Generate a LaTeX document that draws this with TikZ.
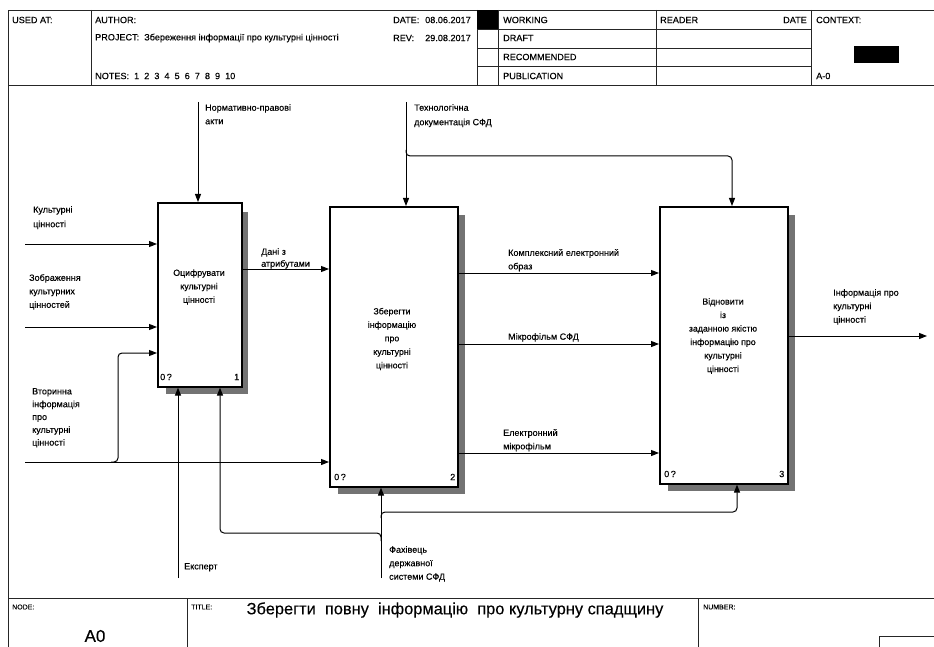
\documentclass[tikz,border=0pt]{standalone}
\usepackage{fontspec}
\setmainfont{Liberation Sans}[FakeBold=0.25]
\usetikzlibrary{arrows.meta}
\begin{document}
\begin{tikzpicture}[x=1pt,y=-1pt,
  lbl/.style={font=\fontsize{9}{13.5}\selectfont, align=left, anchor=north west, inner sep=0pt},
  boxtxt/.style={font=\fontsize{8.8}{13.5}\selectfont, align=center, inner sep=0pt},
  hdr/.style={font=\fontsize{9.1}{10}\selectfont, anchor=west, inner sep=0pt},
  small/.style={font=\fontsize{7}{8}\selectfont, anchor=west, inner sep=0pt},
  proc/.style={draw, line width=1.6pt, fill=white, anchor=north west, inner sep=0pt},
  conn/.style={line width=1pt, -{Triangle[length=8pt,width=6pt]}, rounded corners=4pt},
  shadowfill/.style={fill=black!55},
  frame/.style={line width=0.9pt, draw=black!85}
]
\useasboundingbox (0,0) rectangle (934,647);
% ---------- frame ----------
\draw[frame] (8,647) -- (8,10) -- (934,10);
\draw[frame] (8,85) -- (934,85);
\draw[frame] (91,10) -- (91,85);
\draw[frame] (477,10) -- (477,85);
\draw[frame] (498,10) -- (498,85);
\draw[frame] (656,10) -- (656,85);
\draw[frame] (811,10) -- (811,85);
\foreach \yy in {29,48,66} \draw[frame] (477,\yy) -- (811,\yy);
\fill (477,10) rectangle (498,29);
\fill (854,46) rectangle (899,63);
\draw[frame] (8,598) -- (934,598);
\draw[frame] (187,598) -- (187,647);
\draw[frame] (698,598) -- (698,647);
\draw[frame] (879,647) -- (879,636) -- (934,636);
% ---------- header text ----------
\node[hdr] (usedat) at (12,20) {USED AT:};
\node[hdr] (author) at (95,20) {AUTHOR:};
\node[hdr] (project) at (95,38) {PROJECT:\ \ Збереження інформації про культурні цінності};
\node[hdr] (notes) at (95,76) {NOTES:\ \ 1\ \ 2\ \ 3\ \ 4\ \ 5\ \ 6\ \ 7\ \ 8\ \ 9\ \ 10};
\node[hdr] (datel) at (393,20) {DATE:};
\node[hdr] (datev) at (425,20) {08.06.2017};
\node[hdr] (revl) at (393,38) {REV:};
\node[hdr] (revv) at (425,38) {29.08.2017};
\node[hdr] (working) at (503,20) {WORKING};
\node[hdr] (draft) at (503,38) {DRAFT};
\node[hdr] (recom) at (503,57) {RECOMMENDED};
\node[hdr] (publ) at (503,76) {PUBLICATION};
\node[hdr] (reader) at (660,20) {READER};
\node[hdr, anchor=east] (rdate) at (807,20) {DATE};
\node[hdr] (context) at (816,20) {CONTEXT:};
\node[hdr] (azero) at (816,76) {A-0};
% ---------- footer text ----------
\node[small] (nodel) at (12,607) {NODE:};
\node[font=\fontsize{17}{18}\selectfont, inner sep=0pt] (nodev) at (95,636) {A0};
\node[small] (titlel) at (191,607) {TITLE:};
\node[font=\fontsize{16.4}{18}\selectfont, inner sep=0pt] (title) at (455,610) {Зберегти\ \ повну\ \ інформацію\ \ про культурну спадщину};
\node[small] (numberl) at (703,607) {NUMBER:};
% ---------- shadows ----------
\fill[shadowfill] (241,212) rectangle (248,394);
\fill[shadowfill] (166,386) rectangle (248,394);
\fill[shadowfill] (457,215) rectangle (465,494);
\fill[shadowfill] (338,486) rectangle (465,494);
\fill[shadowfill] (787,215) rectangle (795,491);
\fill[shadowfill] (668,483) rectangle (795,491);
% ---------- boxes ----------
\node[proc, minimum width=84pt, minimum height=184pt] (b1) at (157,202) {};
\node[proc, minimum width=128pt, minimum height=280pt] (b2) at (329,206) {};
\node[proc, minimum width=128pt, minimum height=277pt] (b3) at (659,206) {};
\node[boxtxt] (t1) at (199,287) {Оцифрувати\\культурні\\цінності};
\node[boxtxt] (t2) at (392,339) {Зберегти\\інформацію\\про\\культурні\\цінності};
\node[boxtxt] (t3) at (723,336) {Відновити\\із\\заданною якістю\\інформацію про\\культурні\\цінності};
\node[hdr] (q1) at (160,377) {0\,?};
\node[hdr] (n1) at (234,377) {1};
\node[hdr] (q2) at (334,477) {0\,?};
\node[hdr] (n2) at (450,477) {2};
\node[hdr] (q3) at (664,474) {0\,?};
\node[hdr] (n3) at (779,474) {3};
% ---------- coordinates ----------
\coordinate (c1) at (198,102);
\coordinate (c2) at (406,102);
\coordinate (c2b) at (406,150);
\coordinate (c3) at (732,156);
\coordinate (i1) at (25,244);
\coordinate (i2) at (25,327);
\coordinate (i3) at (25,462);
\coordinate (i3b) at (111,462);
\coordinate (i3c) at (118,353);
\coordinate (y269) at (0,269);
\coordinate (y273) at (0,273);
\coordinate (y344) at (0,344);
\coordinate (y453) at (0,453);
\coordinate (y336) at (0,336);
\coordinate (o1) at (927,336);
\coordinate (m1) at (178,578);
\coordinate (m2) at (381,578);
\coordinate (m2a) at (381,518);
\coordinate (m2b) at (381,541);
\coordinate (m3) at (737,512);
\coordinate (m4) at (220,533);
% ---------- connectors ----------
\draw[conn] (c1) -- (c1 |- b1.north);
\draw[conn] (c2) -- (c2 |- b2.north);
\draw[conn] (c2b) -- (c2b |- c3) -- (c3) -- (c3 |- b3.north);
\draw[conn] (i1) -- (i1 -| b1.west);
\draw[conn] (i2) -- (i2 -| b1.west);
\draw[conn] (i3) -- (i3 -| b2.west);
\draw[conn] (i3b) -- (i3b -| i3c) -- (i3c) -- (i3c -| b1.west);
\draw[conn] (b1.east |- y269) -- (b2.west |- y269);
\draw[conn] (b2.east |- y273) -- (b3.west |- y273);
\draw[conn] (b2.east |- y344) -- (b3.west |- y344);
\draw[conn] (b2.east |- y453) -- (b3.west |- y453);
\draw[conn] (b3.east |- y336) -- (o1);
\draw[conn] (m1) -- (m1 |- b1.south);
\draw[conn] (m2) -- (m2 |- b2.south);
\draw[conn] (m2a) -- (m2a |- m3) -- (m3) -- (m3 |- b3.south);
\draw[conn] (m2b) -- (m2b |- m4) -- (m4) -- (m4 |- b1.south);
% ---------- labels ----------
\node[lbl] (l1) at (205,104) {Нормативно-правові\\акти};
\node[lbl, font=\fontsize{9}{14.5}\selectfont] (l2) at (33,206) {Культурні\\цінності};
\node[lbl] (l3) at (29,274) {Зображення\\культурних\\цінностей};
\node[lbl, font=\fontsize{9}{12.8}\selectfont] (l4) at (32,388) {Вторинна\\інформація\\про\\культурні\\цінності};
\node[lbl, font=\fontsize{9}{12}\selectfont] (l5) at (261,248) {Дані з\\атрибутами};
\node[lbl, font=\fontsize{9}{14.5}\selectfont] (l6) at (414,104) {Технологічна\\документація СФД};
\node[lbl] (l7) at (508,249) {Комплексний електронний\\образ};
\node[lbl] (l8) at (508,333) {Мікрофільм СФД};
\node[lbl] (l9) at (503,429) {Електронний\\мікрофільм};
\node[lbl] (l10) at (833,289) {Інформація про\\культурні\\цінності};
\node[lbl] (l11) at (389,546) {Фахівець\\державної\\системи СФД};
\node[lbl] (l12) at (184,563) {Експерт};
\end{tikzpicture}
\end{document}
